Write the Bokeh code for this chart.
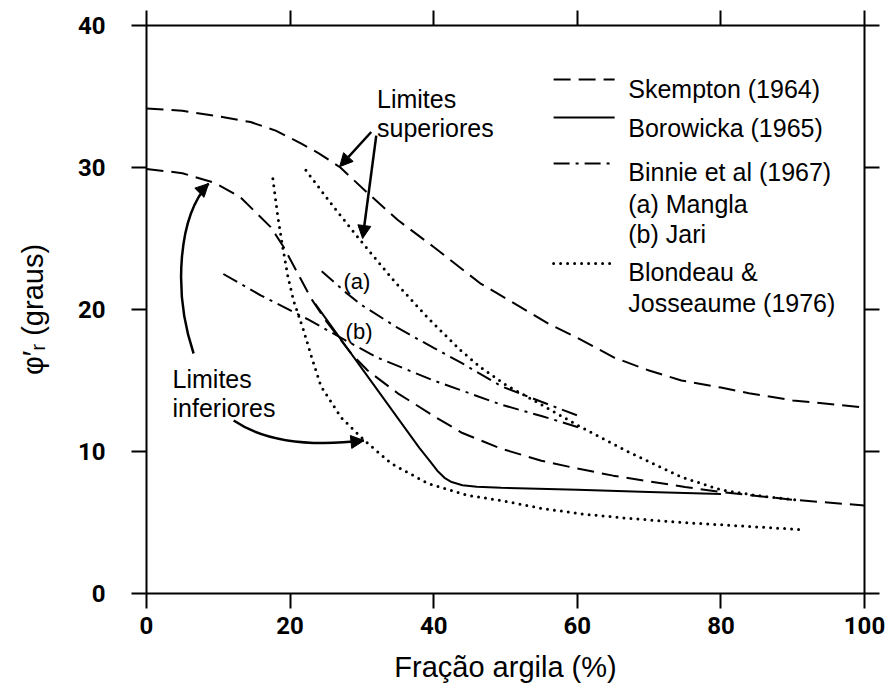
from bokeh.plotting import figure
from bokeh.models import Range1d, LinearAxis, FixedTicker, Label, Arrow, NormalHead
from bokeh.embed import file_html
from bokeh.resources import INLINE

# ---------------- data ----------------
x_ticks = [0, 20, 40, 60, 80, 100]
y_ticks = [0, 10, 20, 30, 40]

skempton_upper_x = [0, 5, 10, 14.5, 18, 21.5, 24, 27, 30.8, 35, 40, 46.6, 50, 56, 60, 65.2, 70, 74.5, 80, 83.9, 90, 100]
skempton_upper_y = [34.15, 34.0, 33.6, 33.2, 32.6, 31.7, 31.0, 30.0, 28.2, 26.3, 24.4, 21.8, 20.8, 19.0, 18.0, 16.6, 15.7, 15.0, 14.5, 14.1, 13.6, 13.1]

skempton_lower_x = [0, 5, 9.6, 13.1, 17.3, 19.1, 21, 22.9, 25, 28.5, 30.8, 35, 40, 44, 49.4, 55, 60, 65, 70, 75, 80, 90, 100]
skempton_lower_y = [29.9, 29.6, 28.9, 27.9, 25.8, 24.4, 22.6, 20.8, 19.2, 16.9, 15.7, 14.1, 12.5, 11.3, 10.2, 9.35, 8.8, 8.3, 7.9, 7.5, 7.15, 6.6, 6.2]

borowicka_x = [23.5, 27.5, 31, 35, 38, 39.5, 40.5, 41.5, 42.5, 44, 46, 49.4, 60, 70, 80]
borowicka_y = [20.4, 17.6, 15.15, 12.35, 10.25, 9.3, 8.65, 8.15, 7.85, 7.62, 7.52, 7.45, 7.3, 7.15, 7.0]

binnie_a_x = [24.4, 28, 30, 35, 40, 44, 49.4, 55, 60.2]
binnie_a_y = [22.7, 21.1, 20.3, 18.7, 17.3, 16.2, 14.6, 13.5, 12.5]

binnie_b_x = [10.7, 15.9, 22.5, 28, 32.2, 40, 49.4, 55, 60.2]
binnie_b_y = [22.5, 21.0, 19.3, 17.75, 16.6, 15.0, 13.3, 12.5, 11.7]

blondeau_upper_x = [22.2, 26.1, 29.9, 34.5, 39.2, 43.8, 46.6, 50, 55, 60.2, 67, 74.5, 80, 85, 90.3]
blondeau_upper_y = [29.8, 27.2, 24.8, 22.0, 19.4, 17.1, 15.9, 14.7, 13.3, 11.8, 10.0, 8.2, 7.3, 6.9, 6.6]

blondeau_lower_x = [17.6, 18.3, 18.9, 19.7, 20.5, 21.9, 22.9, 24.3, 27.1, 30.3, 34.1, 39.2, 44.8, 49.4, 55, 60.6, 67, 74.5, 83, 91.3]
blondeau_lower_y = [29.2, 26.5, 24.6, 22.3, 20.6, 18.5, 16.8, 14.6, 12.4, 10.8, 9.15, 7.75, 6.9, 6.55, 6.0, 5.6, 5.3, 5.0, 4.75, 4.5]

legend_labels = ["Skempton (1964)", "Borowicka (1965)", "Binnie et al (1967)", "(a) Mangla", "(b) Jari",
                 "Blondeau &", "Josseaume (1976)"]

x_title = "Fração argila (%)"
y_title = "φ′ᵣ (graus)"

# ---------------- styles ----------------
DASH = "17 8"
DASHDOT = "16 6 3 6"
DOT = "0 7"
TXT_FONT = "Liberation Sans"
TICK_FONT = "Roboto"

p = figure(width=888, height=695, x_range=Range1d(0, 100), y_range=Range1d(0, 40),
           output_backend="svg", toolbar_location=None,
           min_border_left=146, min_border_right=24, min_border_top=25, min_border_bottom=102)
p.grid.visible = False
p.outline_line_color = None
p.background_fill_color = "white"
p.border_fill_color = "white"


def style_axis(ax, ticks, show_labels):
    ax.ticker = FixedTicker(ticks=ticks)
    ax.axis_line_width = 2
    ax.axis_line_color = "black"
    ax.major_tick_line_width = 2
    ax.major_tick_line_color = "black"
    ax.major_tick_out = 15
    ax.major_tick_in = 0
    ax.minor_tick_out = 0
    ax.minor_tick_in = 0
    if show_labels:
        ax.major_label_text_font = TICK_FONT
        ax.major_label_text_font_size = "24px"
        ax.major_label_text_font_style = "bold"
        ax.major_label_text_color = "black"
    else:
        ax.major_label_overrides = {t: "" for t in ticks}
        ax.major_label_text_font_size = "1px"
        ax.major_label_standoff = 0


style_axis(p.xaxis[0], x_ticks, True)
p.xaxis[0].major_label_standoff = 8
p.xaxis[0].axis_label = x_title
p.xaxis[0].axis_label_text_font = TXT_FONT
p.xaxis[0].axis_label_text_font_size = "29px"
p.xaxis[0].axis_label_text_font_style = "normal"
p.xaxis[0].axis_label_text_color = "black"
p.xaxis[0].axis_label_standoff = 14

style_axis(p.yaxis[0], y_ticks, True)
p.yaxis[0].major_label_standoff = 26
p.yaxis[0].axis_label = y_title
p.yaxis[0].axis_label_text_font = TXT_FONT
p.yaxis[0].axis_label_text_font_size = "29px"
p.yaxis[0].axis_label_text_font_style = "normal"
p.yaxis[0].axis_label_text_color = "black"
p.yaxis[0].axis_label_standoff = 26

top_ax = LinearAxis()
style_axis(top_ax, x_ticks, False)
p.add_layout(top_ax, "above")
right_ax = LinearAxis()
style_axis(right_ax, y_ticks, False)
p.add_layout(right_ax, "right")

# ---------------- curves ----------------
p.line(skempton_upper_x, skempton_upper_y, line_color="black", line_width=2, line_dash=DASH)
p.line(skempton_lower_x, skempton_lower_y, line_color="black", line_width=2, line_dash=DASH)
p.line(borowicka_x, borowicka_y, line_color="black", line_width=2)
p.line(binnie_a_x, binnie_a_y, line_color="black", line_width=2, line_dash=DASHDOT)
p.line(binnie_b_x, binnie_b_y, line_color="black", line_width=2, line_dash=DASHDOT)
p.line(blondeau_upper_x, blondeau_upper_y, line_color="black", line_width=3, line_dash=DOT, line_cap="round")
p.line(blondeau_lower_x, blondeau_lower_y, line_color="black", line_width=3, line_dash=DOT, line_cap="round")

# ---------------- legend (drawn by hand) ----------------
leg_x0, leg_x1, leg_tx = 56.7, 65.2, 67.1
p.line([leg_x0, leg_x1], [36.2, 36.2], line_color="black", line_width=2, line_dash=DASH)
p.line([leg_x0, leg_x1], [33.52, 33.52], line_color="black", line_width=2)
p.line([leg_x0, leg_x1], [30.28, 30.28], line_color="black", line_width=2, line_dash=DASHDOT)
p.line([leg_x0, leg_x1], [23.24, 23.24], line_color="black", line_width=3, line_dash=DOT, line_cap="round")
for txt, yb in zip(legend_labels, [35.56, 32.75, 29.65, 27.46, 25.35, 22.61, 20.49]):
    p.add_layout(Label(x=leg_tx, y=yb, text=txt, text_font=TXT_FONT, text_font_size="25px",
                       text_color="black", text_align="left", text_baseline="alphabetic"))

# ---------------- annotations ----------------
for txt, xx, yy in [("Limites", 32.1, 34.79), ("superiores", 32.1, 32.75),
                    ("Limites", 3.63, 15.14), ("inferiores", 3.63, 13.03)]:
    p.add_layout(Label(x=xx, y=yy, text=txt, text_font=TXT_FONT, text_font_size="25px",
                       text_color="black", text_align="left", text_baseline="alphabetic"))
for txt, xx, yy in [("(a)", 29.3, 21.97), ("(b)", 29.6, 18.45)]:
    p.add_layout(Label(x=xx, y=yy, text=txt, text_font=TXT_FONT, text_font_size="22px",
                       text_color="black", text_align="center", text_baseline="middle"))


def head():
    return NormalHead(size=13, fill_color="black", line_color="black", line_width=1)


p.add_layout(Arrow(end=head(), x_start=31.3, y_start=32.5, x_end=26.9, y_end=30.06,
                   line_color="black", line_width=2.5))
p.add_layout(Arrow(end=head(), x_start=32.0, y_start=32.25, x_end=30.1, y_end=25.0,
                   line_color="black", line_width=2.5))

p.bezier(x0=[6.56], y0=[16.9], x1=[8.65], y1=[28.87], cx0=[3.63], cy0=[21.34], cx1=[4.47], cy1=[26.6],
         line_color="black", line_width=2.5)
p.add_layout(Arrow(end=head(), x_start=7.82, y_start=28.45, x_end=8.65, y_end=28.87,
                   line_color="black", line_width=2.5))
p.bezier(x0=[12.14], y0=[12.18], x1=[30.29], y1=[10.77], cx0=[17.3], cy0=[10.42], cx1=[24.3], cy1=[10.42],
         line_color="black", line_width=2.5)
p.add_layout(Arrow(end=head(), x_start=28.47, y_start=10.67, x_end=30.29, y_end=10.77,
                   line_color="black", line_width=2.5))

open("out.html", "w").write(file_html(p, INLINE))
